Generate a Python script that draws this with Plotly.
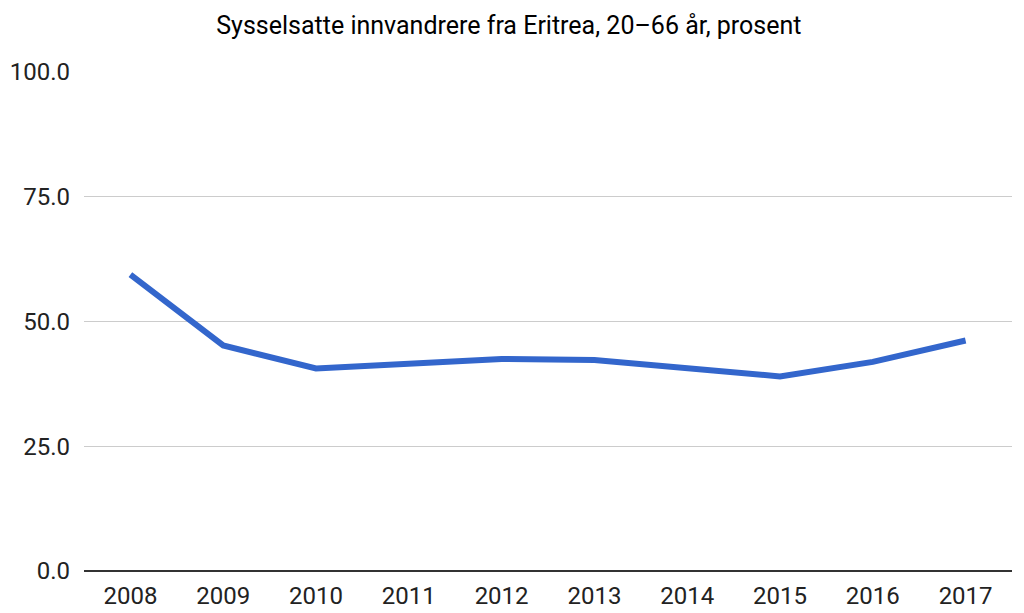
import plotly.graph_objects as go

# Data
years = ["2008", "2009", "2010", "2011", "2012", "2013", "2014", "2015", "2016", "2017"]
employed_pct = [59.4, 45.2, 40.6, 41.6, 42.5, 42.3, 40.6, 39.0, 41.9, 46.2]
y_ticks = [0, 25, 50, 75, 100]

fig = go.Figure()
fig.add_trace(go.Scatter(
    x=years, y=employed_pct, mode="lines",
    line=dict(color="#3366CC", width=6),
    hoverinfo="x+y",
))

# page body has an 8px margin, so the figure is a bit smaller than the window
fig.update_layout(
    width=1016, height=605,
    margin=dict(l=76, r=12, t=64, b=42),
    paper_bgcolor="white", plot_bgcolor="white",
    font=dict(family="Roboto", size=24, color="#222222"),
    title=dict(text="Sysselsatte innvandrere fra Eritrea, 20–66 år, prosent",
               x=0.493, xanchor="center", y=0.972, yanchor="middle",
               font=dict(size=25, color="#000000")),
    showlegend=False,
)
fig.update_xaxes(type="category", range=[-0.5, 9.5], showgrid=False,
                 showline=False, ticks="", ticklabelstandoff=8,
                 automargin=False,
                 tickfont=dict(size=24, color="#222222"))
fig.update_yaxes(range=[0, 100], tickvals=y_ticks, tickformat=".1f",
                 showgrid=True, gridcolor="#CCCCCC", gridwidth=1,
                 zeroline=True, zerolinecolor="#333333", zerolinewidth=1.5,
                 ticks="", ticklabelstandoff=13, automargin=False,
                 tickfont=dict(size=24, color="#222222"))

fig.write_html("out.html")
